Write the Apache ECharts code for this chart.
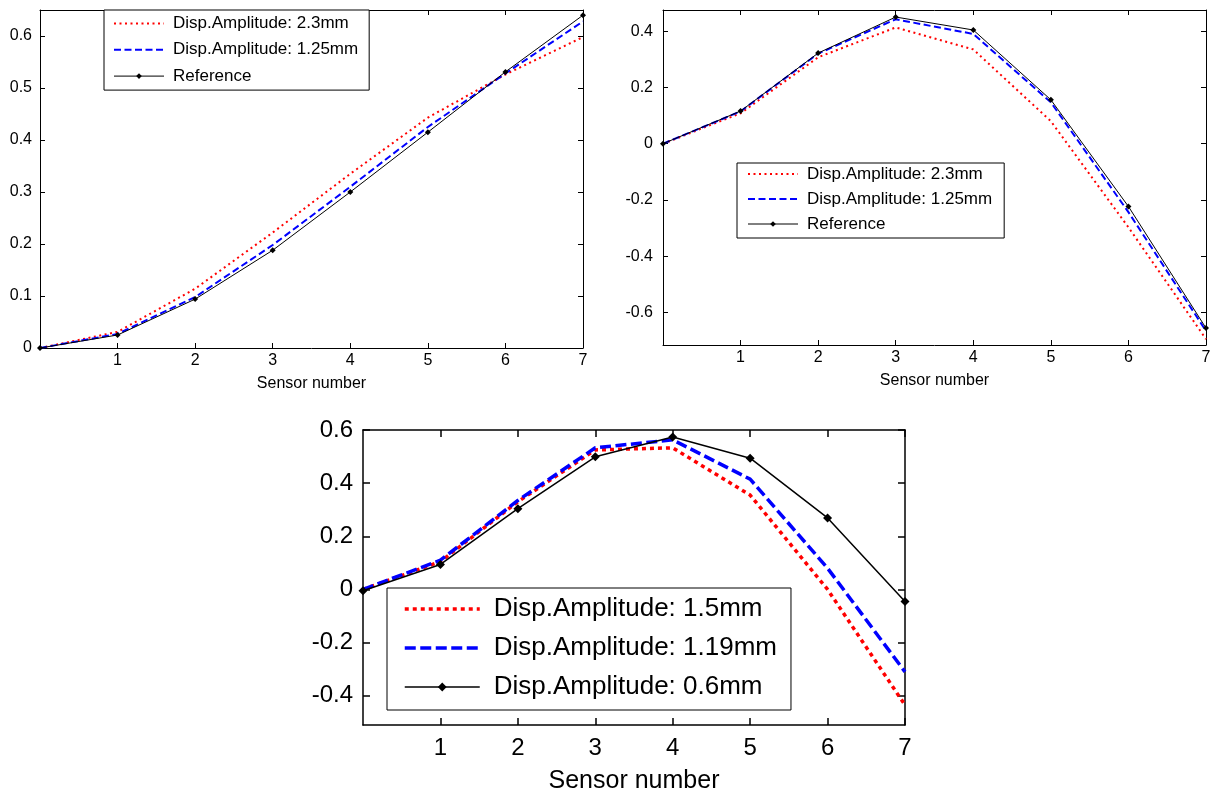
<!DOCTYPE html>
<html><head><meta charset="utf-8">
<script src="https://cdn.jsdelivr.net/npm/echarts@6/dist/echarts.min.js"></script>
<style>html,body{margin:0;padding:0;background:#fff}#c{width:1214px;height:796px}</style>
</head><body><div id="c"></div>
<script>
// ---- data ----
const sensors = [0, 1, 2, 3, 4, 5, 6, 7];
const xTicks = [1, 2, 3, 4, 5, 6, 7];
const tlTicks = [0, 0.1, 0.2, 0.3, 0.4, 0.5, 0.6];
const trTicks = [-0.6, -0.4, -0.2, 0, 0.2, 0.4];
const bTicks = [-0.4, -0.2, 0, 0.2, 0.4, 0.6];

const topNames = ['Disp.Amplitude: 2.3mm', 'Disp.Amplitude: 1.25mm', 'Reference'];
const botNames = ['Disp.Amplitude: 1.5mm', 'Disp.Amplitude: 1.19mm', 'Disp.Amplitude: 0.6mm'];
const xName = 'Sensor number';

const tlRed  = [0, 0.031, 0.114, 0.222, 0.335, 0.443, 0.526, 0.598];
const tlBlue = [0, 0.027, 0.098, 0.198, 0.310, 0.425, 0.528, 0.628];
const tlRef  = [0, 0.025, 0.094, 0.188, 0.300, 0.415, 0.531, 0.640];

const trRed  = [0, 0.108, 0.307, 0.413, 0.335, 0.080, -0.297, -0.694];
const trBlue = [0, 0.115, 0.320, 0.442, 0.390, 0.147, -0.243, -0.665];
const trRef  = [0, 0.116, 0.322, 0.450, 0.404, 0.156, -0.223, -0.655];

const bRed  = [0, 0.105, 0.330, 0.525, 0.533, 0.355, 0.000, -0.435];
const bBlue = [0, 0.110, 0.335, 0.533, 0.563, 0.415, 0.080, -0.310];
const bRef  = [-0.005, 0.094, 0.304, 0.499, 0.574, 0.494, 0.269, -0.045];

// ---- styling / layout ----
const FONT = "'Liberation Sans', Arial, sans-serif";
const grids = [
  {left: 40, top: 10, width: 543, height: 338},
  {left: 663, top: 10, width: 543, height: 335},
  {left: 363, top: 430, width: 542, height: 295}
];
const yRanges = [[0, 0.65], [-0.715, 0.475], [-0.51, 0.6]];
const yTickSets = [tlTicks, trTicks, bTicks];
const big = [false, false, true];

const fmtY = v => { const r = Math.round(v * 10) / 10; return r === 0 ? '0' : String(r); };
const fmtX = v => String(Math.round(v));

const xAxes = [], yAxes = [];
grids.forEach((g, i) => {
  const b = big[i];
  const fs = b ? 24 : 16;
  const lw = b ? 1.5 : 1;
  const tl = b ? 7 : 5;
  const line = {show: true, onZero: false, lineStyle: {color: '#000', width: lw}};
  const tick = vals => ({show: true, inside: true, length: tl, customValues: vals, lineStyle: {color: '#000', width: lw}});
  xAxes.push({
    gridIndex: i, type: 'value', min: 0, max: 7, position: 'bottom',
    axisLine: line, axisTick: tick(xTicks), splitLine: {show: false},
    axisLabel: {customValues: xTicks, formatter: fmtX, color: '#000', fontSize: fs, fontFamily: FONT, margin: b ? 11 : 5},
    name: xName, nameLocation: 'middle', nameGap: b ? 44 : 28,
    nameTextStyle: {color: '#000', fontSize: b ? 25 : 16, fontFamily: FONT}
  });
  xAxes.push({
    gridIndex: i, type: 'value', min: 0, max: 7, position: 'top',
    axisLine: line, axisTick: tick(xTicks), axisLabel: {show: false}, splitLine: {show: false}
  });
  yAxes.push({
    gridIndex: i, type: 'value', min: yRanges[i][0], max: yRanges[i][1], position: 'left',
    axisLine: line, axisTick: tick(yTickSets[i]), splitLine: {show: false},
    axisLabel: {customValues: yTickSets[i], formatter: fmtY, color: '#000', fontSize: fs, fontFamily: FONT, margin: b ? 10 : (i === 0 ? 8 : 10)}
  });
  yAxes.push({
    gridIndex: i, type: 'value', min: yRanges[i][0], max: yRanges[i][1], position: 'right',
    axisLine: line, axisTick: tick(yTickSets[i]), axisLabel: {show: false}, splitLine: {show: false}
  });
});

function mk(name, vals, gi, kind) {
  const b = big[gi];
  const s = {
    type: 'line', name, xAxisIndex: gi * 2, yAxisIndex: gi * 2,
    data: sensors.map((x, k) => [x, vals[k]]),
    silent: true, animation: false, clip: false
  };
  if (kind === 'red') {
    s.symbol = 'none'; s.color = '#ff0000'; s.z = 2;
    s.lineStyle = {color: '#ff0000', width: b ? 3.5 : 2, type: b ? [4, 4] : [2, 3.5]};
  } else if (kind === 'blue') {
    s.symbol = 'none'; s.color = '#0000ff'; s.z = 3;
    s.lineStyle = {color: '#0000ff', width: b ? 3.5 : 2, type: b ? [11, 4.5] : [7, 3.5]};
  } else {
    s.symbol = 'diamond'; s.symbolSize = b ? 9 : 6; s.color = '#000'; s.z = 4;
    s.showSymbol = true;
    s.itemStyle = {color: '#000'};
    s.lineStyle = {color: '#000', width: b ? 1.5 : 1, type: 'solid'};
  }
  return s;
}

const series = [
  mk(topNames[0], tlRed, 0, 'red'), mk(topNames[1], tlBlue, 0, 'blue'), mk(topNames[2], tlRef, 0, 'ref'),
  mk(topNames[0], trRed, 1, 'red'), mk(topNames[1], trBlue, 1, 'blue'), mk(topNames[2], trRef, 1, 'ref'),
  mk(botNames[0], bRed, 2, 'red'), mk(botNames[1], bBlue, 2, 'blue'), mk(botNames[2], bRef, 2, 'ref')
];

function legendData(names) {
  return [
    {name: names[0], itemStyle: {opacity: 0}},
    {name: names[1], itemStyle: {opacity: 0}},
    {name: names[2]}
  ];
}
function legend(names, left, top, o) {
  return {
    orient: 'vertical', left, top, data: legendData(names),
    itemWidth: o.iw, itemHeight: o.ih, itemGap: o.gap, padding: o.pad,
    borderColor: '#000', borderWidth: 1, borderRadius: 0, backgroundColor: '#fff',
    selectedMode: false, z: 10,
    lineStyle: {width: 'inherit'},
    textStyle: {fontFamily: FONT, fontSize: o.fs, color: '#000', lineHeight: o.lh, padding: [0, 0, 0, o.tp]}
  };
}

const option = {
  backgroundColor: '#fff',
  animation: false,
  grid: grids.map(g => Object.assign({containLabel: false, show: false}, g)),
  xAxis: xAxes,
  yAxis: yAxes,
  legend: [
    legend(topNames, 104, 10, {iw: 50, ih: 7, gap: 8.3, pad: [4.5, 11, 5, 9], fs: 17, lh: 18, tp: 4}),
    legend(topNames, 737, 163, {iw: 50, ih: 7, gap: 7, pad: [2, 12, 5, 10], fs: 17, lh: 18, tp: 4}),
    legend(botNames, 387, 588, {iw: 75, ih: 11, gap: 9, pad: [6, 14, 8, 16], fs: 26, lh: 30, tp: 9})
  ],
  series
};

const chart = echarts.init(document.getElementById('c'), null, {renderer: 'canvas'});
chart.setOption(option);
</script>
</body></html>
